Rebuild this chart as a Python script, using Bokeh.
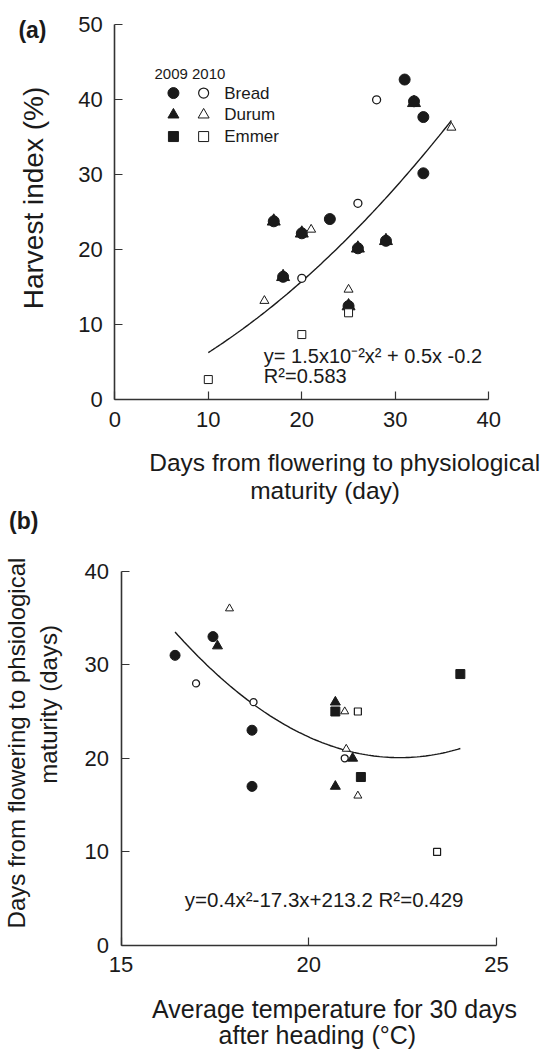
import numpy as np
from bokeh.plotting import figure
from bokeh.models import Label, FixedTicker, Range1d
from bokeh.layouts import column
from bokeh.embed import file_html
from bokeh.resources import INLINE

FONT = "Liberation Sans"

# ---------------- Panel (a): harvest index vs days flowering->maturity
a_bread09_x = [31, 32, 33, 33, 23, 17, 20, 26, 29, 18, 25]
a_bread09_y = [42.7, 39.8, 37.7, 30.2, 24.1, 23.8, 22.2, 20.2, 21.2, 16.4, 12.5]
a_durum09_x = [32, 17, 20, 26, 29, 18, 25]
a_durum09_y = [39.6, 23.8, 22.2, 20.2, 21.2, 16.4, 12.5]
a_bread10_x = [28, 26, 20]
a_bread10_y = [40.0, 26.2, 16.2]
a_durum10_x = [36, 21, 16, 25]
a_durum10_y = [36.3, 22.7, 13.2, 14.7]
a_emmer10_x = [25, 20, 10]
a_emmer10_y = [11.6, 8.7, 2.7]
a_coef = [0.015, 0.5, -0.2]          # printed fit
a_xticks = [0, 10, 20, 30, 40]
a_yticks = [0, 10, 20, 30, 40, 50]

# ---------------- Panel (b): days vs mean temperature
b_bread09_x = [17.45, 16.44, 18.49, 18.49]
b_bread09_y = [33, 31, 23, 17]
b_durum09_x = [17.57, 20.71, 21.17, 20.71]
b_durum09_y = [32, 26, 20, 17]
b_emmer09_x = [20.71, 21.39, 24.04]
b_emmer09_y = [25, 18, 29]
b_bread10_x = [17.0, 18.53, 20.96]
b_bread10_y = [28, 26, 20]
b_durum10_x = [17.89, 20.96, 21.0, 21.31]
b_durum10_y = [36, 25, 21, 16]
b_emmer10_x = [21.31, 23.42]
b_emmer10_y = [25, 10]
b_xticks = [15, 20, 25]
b_yticks = [0, 10, 20, 30, 40]

INK = "#1a1a1a"


def make_fig(w, h, xr, yr, xt, yt, xfix, yfix):
    p = figure(width=w, height=h, x_range=Range1d(*xr), y_range=Range1d(*yr),
               output_backend="svg", toolbar_location=None, min_border=0)
    p.min_border_left = p.min_border_right = p.min_border_top = p.min_border_bottom = 0
    p.outline_line_color = None
    p.grid.visible = False
    p.xaxis.ticker = FixedTicker(ticks=xt)
    p.yaxis.ticker = FixedTicker(ticks=yt)
    p.xaxis.fixed_location = yfix
    p.yaxis.fixed_location = xfix
    p.xaxis.bounds = (xt[0], xt[-1])
    p.yaxis.bounds = (yt[0], yt[-1])
    for ax in (p.xaxis[0], p.yaxis[0]):
        ax.axis_line_color = "#333333"
        ax.axis_line_width = 1.6
        ax.major_tick_line_color = "#333333"
        ax.major_tick_line_width = 1.2
        ax.major_tick_in = 8
        ax.major_tick_out = 0
        ax.minor_tick_line_color = None
        ax.major_label_text_font = FONT
        ax.major_label_text_font_size = "22px"
        ax.major_label_text_color = INK
    p.xaxis.major_label_standoff = 12
    p.yaxis.major_label_standoff = 12
    return p


def lab(p, x, y, text, size, align="left", angle=0.0, bold=False):
    p.add_layout(Label(x=x, y=y, text=text, text_font=FONT,
                       text_font_size=f"{size}px", text_align=align,
                       text_baseline="middle", angle=angle, text_color=INK,
                       text_font_style="bold" if bold else "normal"))


# ================= Figure (a)
pa = make_fig(540, 508, (-12.225, 45.529), (-14.493, 53.24), a_xticks, a_yticks, 0, 0)

xs = np.linspace(min(a_emmer10_x), max(a_durum10_x), 100)
pa.line(xs, np.polyval(a_coef, xs), line_color=INK, line_width=1.4)

pa.scatter(a_durum09_x, a_durum09_y, marker="triangle", size=13, fill_color=INK, line_color=INK)
pa.scatter(a_bread09_x, a_bread09_y, marker="circle", size=11, fill_color=INK, line_color=INK)
pa.scatter(a_bread10_x, a_bread10_y, marker="circle", size=8, fill_color="white", line_color=INK, line_width=1.3)
pa.scatter(a_durum10_x, a_durum10_y, marker="triangle", size=9, fill_color="white", line_color=INK, line_width=1.0)
pa.scatter(a_emmer10_x, a_emmer10_y, marker="square", size=8, fill_color="white", line_color=INK, line_width=1.0)

# legend
lab(pa, 4.24, 43.5, "2009 2010", 15)
lx1, lx2, ltx = 6.27, 9.5, 11.7
rows = [40.9, 38.0, 35.1]
pa.scatter([lx1], [rows[0]], marker="circle", size=11, fill_color=INK, line_color=INK)
pa.scatter([lx2], [rows[0]], marker="circle", size=10, fill_color="white", line_color=INK, line_width=1.2)
pa.scatter([lx1], [rows[1]], marker="triangle", size=11, fill_color=INK, line_color=INK)
pa.scatter([lx2], [rows[1]], marker="triangle", size=11, fill_color="white", line_color=INK, line_width=1.0)
pa.scatter([lx1], [rows[2]], marker="square", size=10, fill_color=INK, line_color=INK)
pa.scatter([lx2], [rows[2]], marker="square", size=10, fill_color="white", line_color=INK, line_width=1.0)
for r, t in zip(rows, ["Bread", "Durum", "Emmer"]):
    lab(pa, ltx, r, t, 17)

lab(pa, 15.94, 5.8, "y= 1.5x10\u207b\u00b2x\u00b2 + 0.5x -0.2", 20)
lab(pa, 15.94, 3.2, "R\u00b2=0.583", 20)

lab(pa, -8.81, 49.33, "(a)", 23, align="center", bold=True)
lab(pa, -8.66, 26.9, "Harvest index (%)", 28, align="center", angle=np.pi / 2)
lab(pa, 3.69, -8.32, "Days from flowering to physiological", 24.5)
lab(pa, 22.49, -12.09, "maturity (day)", 24.5, align="center")

# ================= Figure (b)
pb = make_fig(540, 543, (11.790, 26.175), (-11.325, 46.688), b_xticks, b_yticks, 15, 0)

bx = np.array(b_bread09_x + b_durum09_x + b_emmer09_x + b_bread10_x + b_durum10_x + b_emmer10_x)
by = np.array(b_bread09_y + b_durum09_y + b_emmer09_y + b_bread10_y + b_durum10_y + b_emmer10_y)
b_coef = np.polyfit(bx, by, 2)
xs = np.linspace(bx.min(), bx.max(), 100)
pb.line(xs, np.polyval(b_coef, xs), line_color=INK, line_width=1.4)

pb.scatter(b_bread09_x, b_bread09_y, marker="circle", size=10, fill_color=INK, line_color=INK)
pb.scatter(b_durum09_x, b_durum09_y, marker="triangle", size=10, fill_color=INK, line_color=INK)
pb.scatter(b_emmer09_x, b_emmer09_y, marker="square", size=9, fill_color=INK, line_color=INK)
pb.scatter(b_bread10_x, b_bread10_y, marker="circle", size=7, fill_color="white", line_color=INK, line_width=1.3)
pb.scatter(b_durum10_x, b_durum10_y, marker="triangle", size=8, fill_color="white", line_color=INK, line_width=1.0)
pb.scatter(b_emmer10_x, b_emmer10_y, marker="square", size=7, fill_color="white", line_color=INK, line_width=1.2)

lab(pb, 16.7, 4.9, "y=0.4x\u00b2-17.3x+213.2 R\u00b2=0.429", 20.5)
lab(pb, 12.41, 45.4, "(b)", 23, align="center", bold=True)
lab(pb, 12.21, 21.63, "Days from flowering to phsiological", 24, align="center", angle=np.pi / 2)
lab(pb, 13.08, 25.75, "maturity (days)", 24, align="center", angle=np.pi / 2)
lab(pb, 20.69, -6.75, "Average temperature for 30 days", 25, align="center")
lab(pb, 20.23, -9.6, "after heading (\u00b0C)", 25, align="center")

layout = column(pa, pb, spacing=0)
open("out.html", "w").write(file_html(layout, INLINE))
